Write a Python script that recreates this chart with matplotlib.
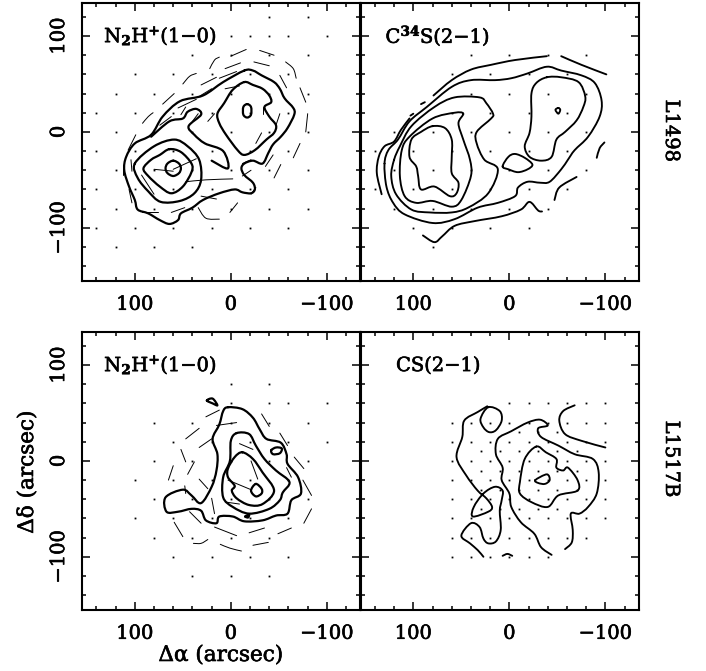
import matplotlib
matplotlib.use("Agg")
import matplotlib.pyplot as plt
import matplotlib.patheffects as pe
from matplotlib.text import Text
from matplotlib.path import Path
from matplotlib.patches import PathPatch
from matplotlib.ticker import MultipleLocator, FixedLocator, FuncFormatter

plt.rcParams['font.family'] = ['DejaVu Serif']
plt.rcParams['mathtext.fontset'] = 'dejavuserif'

# ---- contour readings (arcsec) : L1498 N2H+ ----
n1_outer_x = [-14,-23,-32,-45,-51,-56,-65,-66,-59,-52,-44,-39,-33,-23,-14,-11,-14,-23,-25,-21,-12,-4,12,29,40,52,55,64,74,86,97,100,106,111,109,100,83,71,53,29,8]
n1_outer_y = [64,64,59,52,45,35,25,18,4,-5,-13,-22,-33,-30,-33,-38,-45,-53,-60,-64,-63,-60,-64,-71,-79,-85,-92,-96,-92,-85,-81,-71,-57,-40,-26,-12,-3,16,32,38,52]
n1_arm_x = [20,3,8,27,38,44,31,36,45,50,64,83]
n1_arm_y = [-30,-38,-20,-12,-3,6,18,24,21,14,11,-5]
n1_ring4_x = [100,97,86,73,53,38,31,33,45,59,80]
n1_ring4_y = [-33,-48,-62,-73,-72,-64,-50,-29,-15,-8,-15]
n1_ring3_x = [64,52,41,41,50,62,74,86,91,83,74]
n1_ring3_y = [-18,-21,-33,-42,-57,-64,-57,-46,-38,-29,-24]
n1_ring1_x = [60,66,68,66,60,54,52,54]
n1_ring1_y = [-30,-33,-38,-43,-46,-43,-38,-33]
n1_ne_x = [-14,-23,-33,-40,-42,-35,-40,-47,-45,-37,-25,-14,-7,5,12,14,7,-2]
n1_ne_y = [52,49,45,38,31,26,16,7,-1,-8,-19,-24,-19,-3,9,19,30,44]
n1_oval_x = [-17,-21,-21,-17,-13,-13]
n1_oval_y = [29,26,18,15,18,26]
n1_thin = [
    ([-30,-45],[85,80]), ([0,-16],[79,86]), ([22,17,12],[66,75,78]), ([6,-10],[66,72]),
    ([-24,-40],[73,69]), ([-57,-65,-68],[73,66,56]), ([31,15],[49,57]), ([50,43,36],[50,58,61]),
    ([12,-6],[56,63]), ([-51,-58],[59,46]), ([71,59],[29,40]), ([33,20],[37,45]),
    ([6,-9],[45,48]), ([-72,-78],[46,31]), ([92,86,81],[9,16,20]), ([55,36],[25,34]),
    ([107,99],[-19,-3]), ([-80,-78],[19,0]), ([74,62],[7,16]), ([-72,-65],[-12,-27]),
    ([-52,-45],[-34,-48]), ([-44,-36],[-24,-36]), ([112,112],[-34,-45]), ([104,103],[-29,-41]),
    ([106,103],[-60,-74]), ([93,80],[-45,-65]), ([80,60],[-39,-41]), ([60,36],[-39,-28]),
    ([47,26,-2],[-52,-50,-49]), ([-21,-12],[-40,-46]), ([-21,-12],[-29,-33]),
    ([93,76],[-84,-84]), ([62,48],[-84,-79]), ([34,26,12],[-79,-90,-91]), ([1,-7],[-84,-74]),
    ([-26,-21],[-58,-65]), ([-32,-26],[-1,-12]), ([-51,-47],[19,7]), ([34,40],[19,11]),
    ([17,24],[19,11]), ([47,52],[26,18]), ([-33,-33],[26,19]), ([31,15],[-67,-70]),
]

# ---- L1498 C34S ----
c2_top_x = [79,60,40,19,-6,-39]
c2_top_y = [38,54,65,70,75,79]
c2_topr_x = [-54,-75,-101]
c2_topr_y = [79,70,60]
c2_left_x = [133,138,136,130,120,113,104]
c2_left_y = [-65,-43,-26,-15,-10,2,14]
c2_frag = [([100,103],[19,17]), ([92,88],[29,31]), ([-47,-52,-70],[-71,-58,-47]), ([-91,-94,-99],[-27,-17,-11])]
c2_low_x = [90,78,70,57,36,8,-12,-21,-30,-34]
c2_low_y = [-108,-115,-109,-98,-93,-88,-81,-73,-82,-83]
c2_a_x = [130,128,121,109,80,57,33,12,-6,-9,-19,-32,-42,-54,-61,-68,-82,-94,-96,-89,-75,-54,-39,-19,-2,15,40,60,86,104,116,126]
c2_a_y = [-33,-57,-74,-86,-95,-91,-79,-74,-67,-58,-52,-53,-52,-39,-29,-19,-5,16,33,51,59,64,68,61,56,54,54,47,26,11,-8,-19]
c2_b_x = [120,123,118,102,83,60,43,22,12,26,34,34,19,17,24,31,57,78,102,114]
c2_b_y = [-29,-46,-65,-81,-84,-84,-79,-64,-39,-29,-12,0,14,19,30,36,36,26,6,-15]
c2_c_x = [48,57,80,104,112,114,109,97,80,60,50,40,41,48,53]
c2_c_y = [19,20,14,-5,-19,-46,-67,-74,-72,-78,-71,-46,-29,-8,9]
c2_d_x = [80,67,60,60,60,53,55,62,78,92,95,97,104,102,92]
c2_d_y = [6,4,-8,-26,-43,-53,-64,-67,-57,-60,-46,-36,-26,-8,0]
c2_ne_x = [-39,-54,-72,-79,-77,-70,-58,-49,-44,-33,-21,-16,-21,-23,-23,-28]
c2_ne_y = [57,57,52,37,26,12,0,-8,-26,-30,-26,-15,-1,16,40,51]
c2_dot_x = [-51,-53,-51,-48]
c2_dot_y = [25,23,19,23]
c2_mid_x = [7,1,-6,-16,-24,-19,-9,1]
c2_mid_y = [-36,-26,-23,-27,-34,-39,-42,-39]

# ---- L1517B N2H+ ----
n3_outer_x = [3,-12,-23,-30,-37,-52,-58,-59,-70,-73,-63,-59,-47,-33,-14,-2,12,15,26,31,41,55,67,68,50,41,31,20,15,14,19,12,8]
n3_outer_y = [56,54,45,33,23,19,7,-3,-17,-34,-41,-55,-57,-62,-63,-58,-58,-65,-62,-52,-50,-53,-53,-38,-30,-36,-44,-27,-10,7,23,38,52]
n3_mid_x = [-6,-19,-26,-35,-47,-61,-54,-51,-40,-19,-2,8,8,1,0]
n3_mid_y = [29,28,16,2,-10,-22,-33,-41,-50,-55,-48,-38,-17,0,21]
n3_in_x = [-12,-23,-33,-45,-33,-19,-6,-1,-4,3,3,-4]
n3_in_y = [9,2,-12,-31,-45,-46,-39,-31,-26,-17,-8,4]
n3_peak_x = [-26,-32,-32,-26,-21]
n3_peak_y = [-24,-29,-34,-37,-31]
n3_blob_x = [-42,-47,-53,-51,-44]
n3_blob_y = [11,14,13,8,7]
n3_nw_x = [25,19,14,19]
n3_nw_y = [63,65,58,60]
n3_tiny_x = [-15,-19,-18]
n3_tiny_y = [-58,-56,-59]
n3_thin = [
    ([26,12],[46,53]), ([-32,-40],[49,36]), ([47,33],[23,34]), ([15,-6],[37,40]),
    ([-51,-59],[29,16]), ([33,20],[14,23]), ([52,47],[12,-1]), ([65,60],[-20,-5]),
    ([45,38],[-14,-1]), ([33,24],[-19,-29]), ([-9,-23],[18,12]), ([-21,-28],[0,-19]),
    ([-66,-76],[4,-8]), ([-58,-63],[-7,-17]), ([48,47],[-26,-34]), ([-75,-84],[-20,-36]),
    ([-84,-76],[-50,-65]), ([20,17],[-39,-55]), ([59,50],[-64,-79]), ([43,31],[-53,-65]),
    ([17,-6],[-69,-78]), ([-19,-35],[-75,-70]), ([-49,-63],[-76,-70]), ([39,31,24],[-86,-86,-82]),
    ([11,1,-11],[-87,-91,-94]), ([-23,-39],[-88,-85]), ([3,-21],[-20,-30]), ([5,-9],[-43,-45]),
]

# ---- L1517B CS ----
c4_a_x = [23,33,47,49,55,45,33,24,18,22,38,37,27,15,7,8,10,9,14,22,27,31,40,50,41,33,27]
c4_a_y = [57,51,42,25,4,-15,-31,-39,-48,-53,-58,-48,-34,-27,-31,-41,-52,-72,-84,-86,-81,-69,-65,-78,-86,-93,-100]
c4_oval_x = [22,10,8,14,21,27,30]
c4_oval_y = [56,52,42,32,30,35,44]
c4_b_x = [-44,-33,-26,-12,-2,0,8,7,14,12,-2,-19,-32,-40,-30,-33,-51,-68,-87,-93,-91,-82,-73,-64,-66,-65,-58]
c4_b_y = [-98,-90,-76,-64,-48,-34,-20,-7,7,23,31,40,43,37,34,25,16,7,2,-12,-34,-48,-55,-55,-72,-85,-92]
c4_c_x = [-68,-56,-52,-58,-75,-100]
c4_c_y = [58,52,42,28,21,14]
c4_d_x = [-28,-38,-49,-49,-56,-61,-71,-71,-51,-40,-23,-11,-11,-16]
c4_d_y = [15,9,2,-7,-10,-7,-20,-31,-36,-48,-43,-34,-22,2]
c4_e_x = [-27,-39,-42,-37,-30]
c4_e_y = [-20,-14,-20,-24,-23]
c4_f_x = [7,2,-3]
c4_f_y = [-99,-97,-99]

# ---- observed map positions (row offset -> column offsets) ----
EVEN = [120, 80, 40, 0, -40, -80]
ODD = [140, 100, 60, 20, -20, -60]
n1_pos = {120: [-40,-80], 100: [0,-20,-40,-60,-100], 80: [40,0,-40,-80], 60: [100,60,20,-20,-60],
          40: [120,80,40,0,-40,-80], 20: ODD, 0: EVEN, -20: ODD, -40: EVEN, -60: ODD, -80: EVEN,
          -100: ODD, -120: [120,80,40]}
c2_pos = {80: [40,0,-40,-80], 60: [60,20,-20,-60], 40: [40,0,-40,-80], 20: [60,20,-20,-60],
          0: EVEN, -20: ODD, -40: EVEN, -60: ODD, -80: [120,80,40,0,-40],
          -100: [100,60,20,-20], -120: [80]}
n3_pos = {80: [0,-40], 60: [0,-40,-60,-100], 40: [80,40,0,-40,-80], 20: [60,20,-20,-60,-100],
          0: [80,40,0,-40,-80], -20: [100,60,20,-20,-60], -40: [80,40,0,-40,-80],
          -60: [100,60,20,-20,-60], -80: [80,40,0,-40], -100: [60,20,-20,-60], -120: [40,0,-40]}
FULL = [60,40,20,0,-20,-40,-60,-80,-100]
c4_pos = {60: [0,-20,-40,-60,-80,-100], 40: FULL, 20: FULL, 0: FULL, -20: FULL, -40: FULL,
          -60: FULL, -80: FULL[:8], -100: FULL[:6],
          30: [-10,-30,-50], 10: [30,10,-10,-30,-50,-70], -10: [30,10,-10,-30,-50,-70],
          -30: [30,10,-10,-30,-50,-70], -50: [30,10,-10,-30,-50]}

panel_titles = [r"N$_{\mathbf{2}}$H$^{\mathbf{+}}$(1$-$0)", r"C$^{\mathbf{34}}$S(2$-$1)",
                r"N$_{\mathbf{2}}$H$^{\mathbf{+}}$(1$-$0)", r"CS(2$-$1)"]
source_names = ["L1498", "L1517B"]
x_ticks = [100, 0, -100]
y_ticks = [100, 0, -100]

W, H = 706, 671
fig = plt.figure(figsize=(W/100, H/100), dpi=100)
XL = (155, -135)
YL = (-155, 135)

def make_axes(x0, x1, y0, y1):
    ax = fig.add_axes([x0/W, 1-y1/H, (x1-x0)/W, (y1-y0)/H])
    ax.set_xlim(*XL); ax.set_ylim(*YL)
    for s in ax.spines.values():
        s.set_linewidth(1.5)
    ax.xaxis.set_major_locator(FixedLocator(x_ticks))
    ax.yaxis.set_major_locator(FixedLocator(y_ticks))
    ax.xaxis.set_minor_locator(MultipleLocator(20))
    ax.yaxis.set_minor_locator(MultipleLocator(20))
    ax.tick_params(which='both', direction='in', top=True, right=True, width=1.1)
    ax.tick_params(which='major', length=6, labelsize=14, pad=11)
    ax.tick_params(which='minor', length=3)
    fmt = FuncFormatter(lambda v, p: f"{int(v)}".replace('-', '\u2212'))
    ax.xaxis.set_major_formatter(fmt)
    ax.yaxis.set_major_formatter(fmt)
    return ax

axs = [make_axes(82, 360.5, 2.5, 280.5), make_axes(360.5, 639, 2.5, 280.5),
       make_axes(82, 360.5, 331.5, 609.5), make_axes(360.5, 639, 331.5, 609.5)]
for i, ax in enumerate(axs):
    if i % 2 == 0:
        ax.tick_params(axis='y', labelrotation=90, pad=10)
        for t in ax.get_yticklabels():
            t.set_va('center')
    else:
        ax.tick_params(axis='y', labelleft=False)

def curve(ax, xs, ys, lw, closed=False):
    """Contour through the read vertices, as a Bezier path in data coordinates."""
    pts = list(zip(xs, ys))
    n = len(pts)
    if n < 3:
        ax.plot(xs, ys, color='k', lw=lw, solid_capstyle='round')
        return
    def p(i):
        if closed:
            return pts[i % n]
        return pts[min(max(i, 0), n-1)]
    verts = [pts[0]]
    codes = [Path.MOVETO]
    for i in range(n if closed else n-1):
        a, b, c, d = p(i-1), p(i), p(i+1), p(i+2)
        c1 = (b[0]+(c[0]-a[0])/6, b[1]+(c[1]-a[1])/6)
        c2 = (c[0]-(d[0]-b[0])/6, c[1]-(d[1]-b[1])/6)
        verts += [c1, c2, c]
        codes += [Path.CURVE4]*3
    ax.add_patch(PathPatch(Path(verts, codes), fill=False, ec='k', lw=lw,
                           capstyle='round', joinstyle='round'))

def dots(ax, pos):
    for row, cols in pos.items():
        ax.plot(cols, [row]*len(cols), ls='none', marker='s', ms=1.3, mew=0, color='k')

THICK = 1.6
MED = 1.35
THIN = 0.7

# panel 1
ax = axs[0]
dots(ax, n1_pos)
for xs, ys in [(n1_outer_x, n1_outer_y), (n1_ring4_x, n1_ring4_y), (n1_ring3_x, n1_ring3_y),
               (n1_ring1_x, n1_ring1_y), (n1_ne_x, n1_ne_y), (n1_oval_x, n1_oval_y)]:
    curve(ax, xs, ys, THICK, closed=True)
curve(ax, n1_arm_x, n1_arm_y, THICK)
for xs, ys in n1_thin:
    curve(ax, xs, ys, THIN)

# panel 2
ax = axs[1]
dots(ax, c2_pos)
for xs, ys in [(c2_a_x, c2_a_y), (c2_b_x, c2_b_y), (c2_c_x, c2_c_y), (c2_d_x, c2_d_y),
               (c2_ne_x, c2_ne_y), (c2_dot_x, c2_dot_y), (c2_mid_x, c2_mid_y)]:
    curve(ax, xs, ys, MED, closed=True)
for xs, ys in [(c2_top_x, c2_top_y), (c2_topr_x, c2_topr_y), (c2_left_x, c2_left_y), (c2_low_x, c2_low_y)]:
    curve(ax, xs, ys, MED)
for xs, ys in c2_frag:
    curve(ax, xs, ys, MED)

# panel 3
ax = axs[2]
dots(ax, n3_pos)
for xs, ys in [(n3_outer_x, n3_outer_y), (n3_mid_x, n3_mid_y), (n3_in_x, n3_in_y),
               (n3_peak_x, n3_peak_y), (n3_blob_x, n3_blob_y), (n3_nw_x, n3_nw_y), (n3_tiny_x, n3_tiny_y)]:
    curve(ax, xs, ys, THICK, closed=True)
for xs, ys in n3_thin:
    curve(ax, xs, ys, THIN)

# panel 4
ax = axs[3]
dots(ax, c4_pos)
for xs, ys in [(c4_oval_x, c4_oval_y), (c4_d_x, c4_d_y), (c4_e_x, c4_e_y)]:
    curve(ax, xs, ys, MED, closed=True)
for xs, ys in [(c4_a_x, c4_a_y), (c4_b_x, c4_b_y), (c4_c_x, c4_c_y), (c4_f_x, c4_f_y)]:
    curve(ax, xs, ys, MED)

# titles
title_x = [132, 129, 132, 118]
title_y = [100, 100, 100, 100]
for ax, t, tx, ty in zip(axs, panel_titles, title_x, title_y):
    ax.text(tx, ty, t, fontsize=14, ha='left', va='center')

# source names on the right
axs[1].text(1.115, 0.538, source_names[0], transform=axs[1].transAxes, rotation=270,
            ha='center', va='center', fontsize=14)
axs[3].text(1.115, 0.541, source_names[1], transform=axs[3].transAxes, rotation=270,
            ha='center', va='center', fontsize=14)

fig.text(221/W, 1-655/H, "\u0394\u03b1 (arcsec)", ha='center', va='center', fontsize=15.5)
fig.text(27/W, 1-472/H, "\u0394\u03b4 (arcsec)", ha='center', va='center', rotation=90, fontsize=15.5)

# slightly heavier strokes on all lettering
for t in fig.findobj(Text):
    t.set_path_effects([pe.withStroke(linewidth=0.45, foreground='k')])

fig.savefig("out.png", dpi=100)
